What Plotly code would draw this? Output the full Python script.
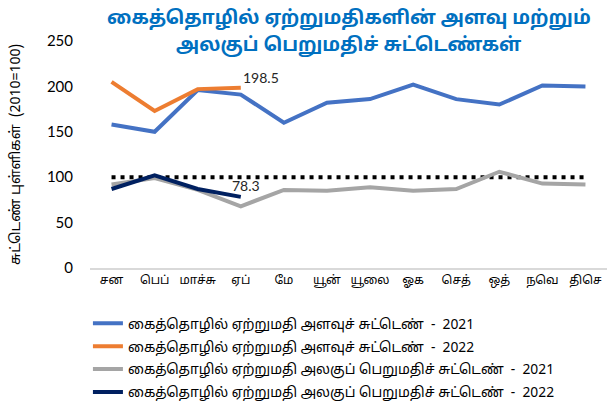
"""Industrial export volume and unit value indices (Tamil) — line chart."""

import plotly.graph_objects as go

MONTHS = ["சன", "பெப்", "மாச்சு", "ஏப்", "மே", "யூன்", "யூலை", "ஓக", "செத்", "ஒத்", "நவெ", "திசெ"]

volume_2021 = [158, 150, 196, 191, 160, 182, 186, 202, 186, 180, 201, 200]
volume_2022 = [205, 173, 197, 198.5]
unit_value_2021 = [92, 99, 86, 68, 86, 85, 89, 85, 87, 106, 93, 92]
unit_value_2022 = [87, 102, 87, 78.3]
base_line = [100] * 12

SERIES = [
    ("கைத்தொழில் ஏற்றுமதி அளவுச் சுட்டெண்  -  2021", volume_2021, "#4472C4"),
    ("கைத்தொழில் ஏற்றுமதி அளவுச் சுட்டெண்  -  2022", volume_2022, "#ED7D31"),
    ("கைத்தொழில் ஏற்றுமதி அலகுப் பெறுமதிச் சுட்டெண்  -  2021", unit_value_2021, "#A5A5A5"),
    ("கைத்தொழில் ஏற்றுமதி அலகுப் பெறுமதிச் சுட்டெண்  -  2022", unit_value_2022, "#002060"),
]

TITLE_LINES = ["கைத்தொழில் ஏற்றுமதிகளின் அளவு மற்றும்", "அலகுப் பெறுமதிச் சுட்டெண்கள்"]

TAMIL_FONT = "Noto Sans Tamil, Latha, Liberation Serif, serif"
NUM_FONT = "Lato, Calibri, sans-serif"

fig = go.Figure()

# base year reference line (2010=100)
fig.add_trace(go.Scatter(
    x=MONTHS, y=base_line, mode="lines", showlegend=False, hoverinfo="skip",
    line=dict(color="black", width=4, dash="4px,5px"),
))

for i, (name, values, color) in enumerate(SERIES):
    fig.add_trace(go.Scatter(
        x=MONTHS[:len(values)], y=values, mode="lines", name=name,
        legendgroup=f"g{i}",  # separate groups so tracegroupgap spaces the rows
        line=dict(color=color, width=4),
    ))

# data labels on the latest 2022 points
fig.add_annotation(x=MONTHS[len(volume_2022) - 1], y=volume_2022[-1], text=f"{volume_2022[-1]}",
                   showarrow=False, xanchor="left", yanchor="bottom", xshift=0, yshift=0,
                   font=dict(size=14, color="#262626", family=NUM_FONT))
fig.add_annotation(x=MONTHS[len(unit_value_2022) - 1], y=unit_value_2022[-1], text=f"{unit_value_2022[-1]}",
                   showarrow=False, xanchor="center", yanchor="bottom", xshift=5, yshift=1,
                   font=dict(size=14, color="#262626", family=NUM_FONT))

# two-line title, each line its own annotation
for i, line in enumerate(TITLE_LINES):
    fig.add_annotation(
        text=f"<b>{line}</b>", xref="paper", yref="paper", x=0.5, y=1, yshift=22 - 27 * i,
        xanchor="center", yanchor="middle", showarrow=False,
        font=dict(size=19, color="#0070C0", family=TAMIL_FONT),
    )

fig.update_layout(
    width=614, height=401,
    template="plotly_white",
    plot_bgcolor="white", paper_bgcolor="white",
    margin=dict(l=90, r=7, t=41, b=133, autoexpand=False),
    xaxis=dict(
        type="category", range=[-0.5, 11.5], showgrid=False, automargin=False,
        showline=True, linecolor="#D9D9D9", linewidth=1.5, ticks="",
        tickfont=dict(size=12, color="black", family=TAMIL_FONT),
    ),
    yaxis=dict(
        range=[0, 250], dtick=50, showgrid=False, zeroline=False, showline=False,
        automargin=False,
        tickfont=dict(size=15, color="black", family=NUM_FONT),
        ticklabelstandoff=16,
        title=dict(text="சுட்டெண் புள்ளிகள்  (2010=100)", standoff=22,
                   font=dict(size=14, color="black", family=TAMIL_FONT)),
    ),
    legend=dict(
        orientation="v", x=-0.004, xanchor="left", y=-0.175, yanchor="top",
        traceorder="grouped", tracegroupgap=2,
        font=dict(size=13.8, color="black", family=TAMIL_FONT),
        bgcolor="rgba(0,0,0,0)",
    ),
    showlegend=True,
)

# drop the default page margin so the figure sits at the window's top-left corner
fig.write_html("out.html", config={"displayModeBar": False},
               post_script="document.body.style.margin = '0';")
